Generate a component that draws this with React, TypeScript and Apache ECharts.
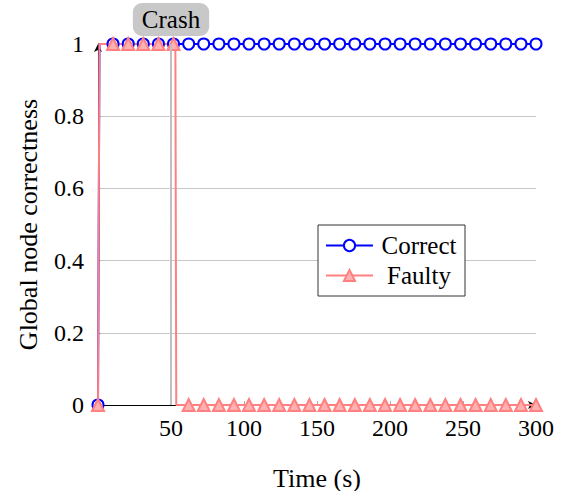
import React, { useEffect, useRef } from "react";
import * as echarts from "echarts";

// Sample times that carry a mark (s)
const markerTimes = [
  0, 10.3, 20.7, 31.0, 41.4, 51.7, 62.1, 72.4, 82.8, 93.1, 103.4, 113.8, 124.1, 134.5, 144.8,
  155.2, 165.5, 175.9, 186.2, 196.6, 206.9, 217.2, 227.6, 237.9, 248.3, 258.6, 269.0, 279.3,
  289.7, 300,
];
const correctValues = [
  0, 1, 1, 1, 1, 1, 1, 1, 1, 1, 1, 1, 1, 1, 1, 1, 1, 1, 1, 1, 1, 1, 1, 1, 1, 1, 1, 1, 1, 1,
];
const faultyValues = [
  0, 1, 1, 1, 1, 1, 0, 0, 0, 0, 0, 0, 0, 0, 0, 0, 0, 0, 0, 0, 0, 0, 0, 0, 0, 0, 0, 0, 0, 0,
];
// Unmarked samples where the value changes
const correctSteps: [number, number][] = [[1, 1]];
const faultySteps: [number, number][] = [
  [1, 1],
  [53, 1],
  [53.6, 0],
];
const xTicks = { min: 0, max: 300, interval: 50 };
const yTicks = { min: 0, max: 1, interval: 0.2 };
const crashTime = 50;
const FONT = "Liberation Serif";

function buildData(times: number[], values: number[], steps: [number, number][]) {
  const pts: any[] = times.map((t, i) => ({ value: [t, values[i]] }));
  steps.forEach((s) => pts.push({ value: s, symbol: "none" }));
  pts.sort((a, b) => a.value[0] - b.value[0]);
  return pts;
}

export default function App() {
  const ref = useRef<HTMLDivElement>(null);
  useEffect(() => {
    const chart = echarts.init(ref.current!, undefined, { renderer: "svg" });
    chart.setOption({
      animation: false,
      backgroundColor: "#fff",
      textStyle: { fontFamily: FONT },
      grid: { left: 98, right: 30, top: 44, bottom: 86, outerBoundsMode: "none", containLabel: false },
      legend: {
        orient: "vertical",
        left: 318,
        top: 225,
        backgroundColor: "#fff",
        borderColor: "#333",
        borderWidth: 1,
        borderRadius: 0,
        padding: [8, 5, 8, 7],
        itemWidth: 47,
        itemHeight: 14,
        itemGap: 5,
        formatter: "{a|{name}}",
        textStyle: {
          fontFamily: FONT,
          fontSize: 25,
          color: "#000",
          rich: { a: { width: 82, align: "center", fontSize: 25, fontFamily: FONT, lineHeight: 25 } },
        },
        data: ["Correct", "Faulty"],
      },
      xAxis: {
        type: "value",
        ...xTicks,
        name: "Time (s)",
        nameLocation: "middle",
        nameGap: 60,
        nameTextStyle: { fontFamily: FONT, fontSize: 26, color: "#000" },
        axisLine: {
          show: true,
          lineStyle: { color: "#000", width: 1 },
          symbol: ["none", "arrow"],
          symbolSize: [6, 8],
        },
        axisTick: { show: true, inside: true, length: 4, lineStyle: { color: "#aaa" } },
        axisLabel: {
          showMinLabel: false,
          fontFamily: FONT,
          fontSize: 24,
          color: "#000",
          margin: 11,
        },
        splitLine: { show: false },
      },
      yAxis: {
        type: "value",
        ...yTicks,
        name: "Global node correctness",
        nameLocation: "middle",
        nameGap: 57,
        nameTextStyle: { fontFamily: FONT, fontSize: 26, color: "#000" },
        axisLine: {
          show: true,
          lineStyle: { color: "#000", width: 1 },
          symbol: ["none", "arrow"],
          symbolSize: [6, 8],
        },
        axisTick: { show: true, inside: true, length: 3, lineStyle: { color: "#aaa" } },
        axisLabel: { fontFamily: FONT, fontSize: 24, color: "#000", margin: 14 },
        splitLine: { show: true, lineStyle: { color: "#c8c8c8", width: 1 } },
      },
      series: [
        {
          name: "Correct",
          type: "line",
          data: buildData(markerTimes, correctValues, correctSteps),
          showAllSymbol: true,
          symbol: "emptyCircle",
          symbolSize: 11,
          lineStyle: { color: "#0000ff", width: 2 },
          itemStyle: { color: "#0000ff", borderColor: "#0000ff", borderWidth: 2 },
          markLine: {
            silent: true,
            symbol: "none",
            lineStyle: { color: "#c0c0c0", width: 2, type: "solid" },
            label: {
              show: true,
              position: "end",
              formatter: "Crash",
              fontFamily: FONT,
              fontSize: 25,
              color: "#000",
              backgroundColor: "#c8c8c8",
              borderRadius: 9,
              padding: [4, 9, 4, 9],
              distance: 8,
            },
            data: [{ xAxis: crashTime }],
          },
        },
        {
          name: "Faulty",
          type: "line",
          data: buildData(markerTimes, faultyValues, faultySteps),
          showAllSymbol: true,
          symbol: "triangle",
          symbolSize: 12,
          lineStyle: { color: "#ff8080", width: 2 },
          itemStyle: { color: "#ffb0b0", borderColor: "#ff8080", borderWidth: 2 },
        },
      ],
    });
    return () => chart.dispose();
  }, []);
  return (
    <div
      ref={ref}
      style={{ position: "absolute", left: 0, top: 0, width: 566, height: 491 }}
    />
  );
}
